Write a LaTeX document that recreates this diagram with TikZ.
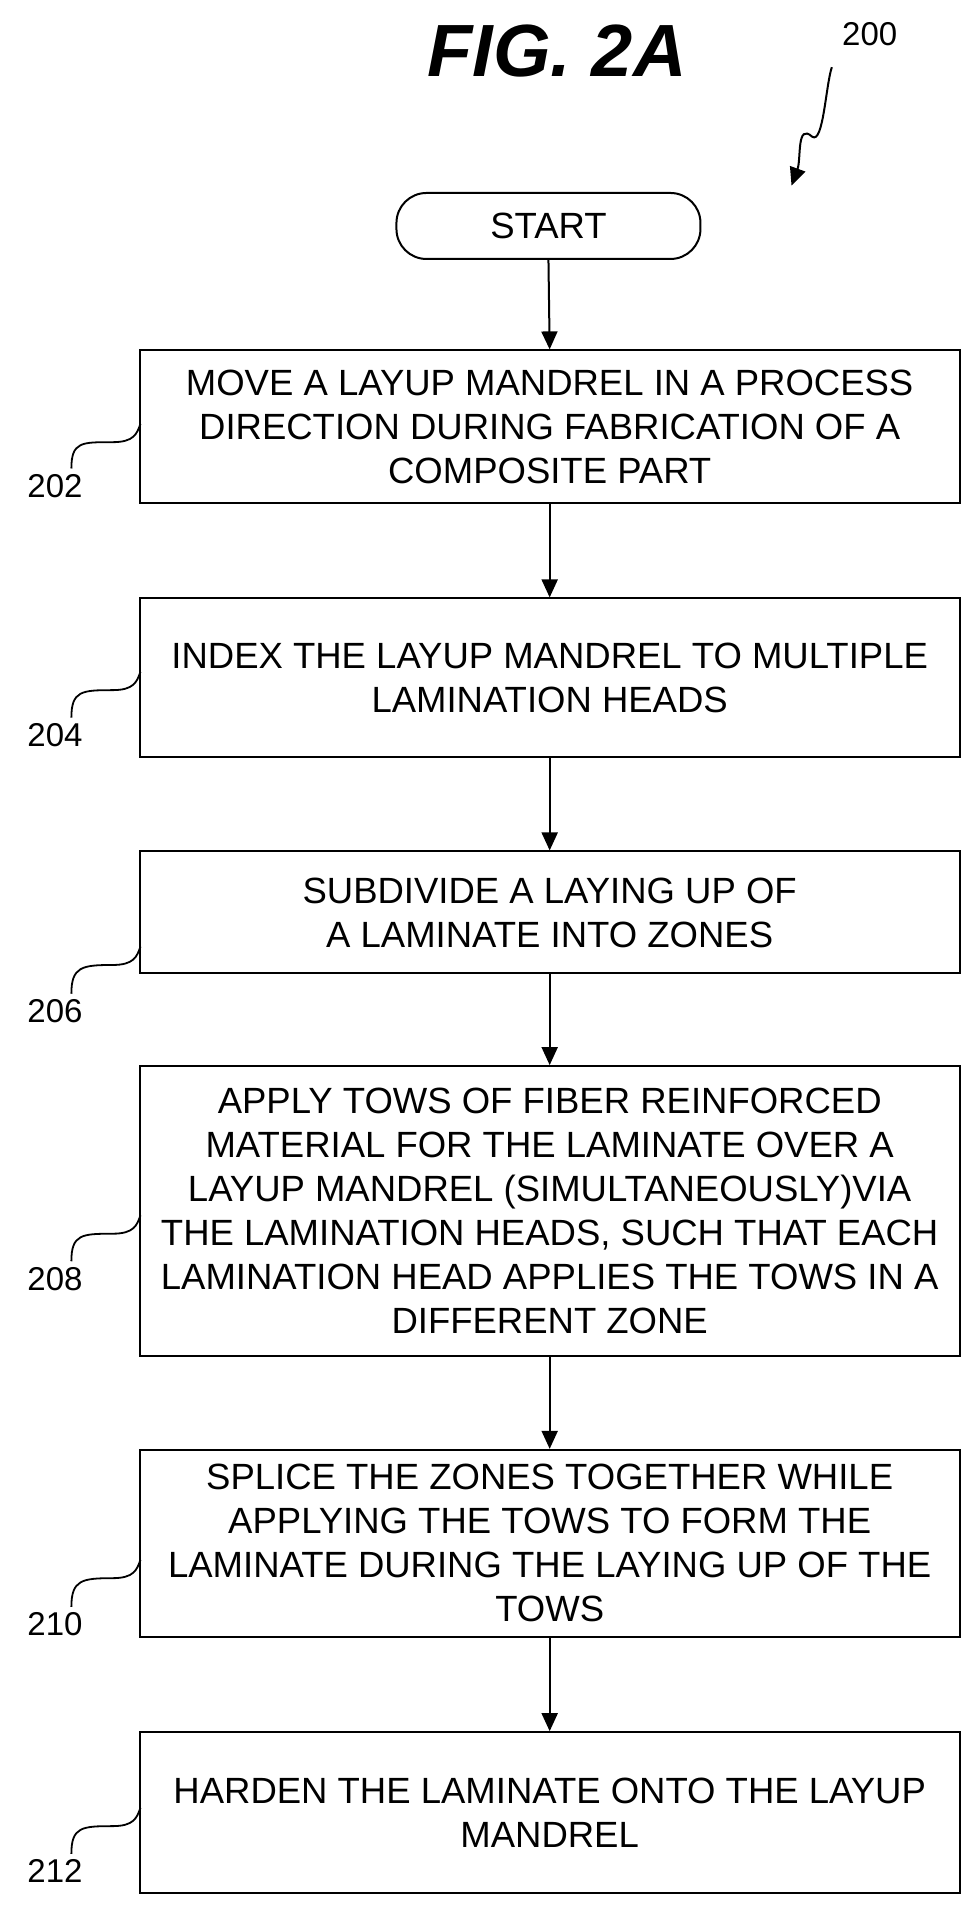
\documentclass[tikz,border=0pt]{standalone}
\usepackage{fontspec}
\setmainfont{Liberation Sans}
\usetikzlibrary{arrows.meta}
\begin{document}
\begin{tikzpicture}[x=1.2215pt,y=-1.2215pt,
  box/.style={draw,line width=2pt,minimum width=820pt,align=center,font=\fontsize{36.5}{44}\selectfont},
  lab/.style={font=\fontsize{33}{36}\selectfont},
  arr/.style={line width=2pt,-{Triangle[length=18pt,width=16pt]}},
  sq/.style={line width=1.8pt}]
\useasboundingbox (0,0) rectangle (800,1569.4);
\node[font=\fontsize{74}{80}\selectfont\bfseries\itshape] (fig) at (456,42) {FIG. 2A};
\node[lab] (n200) at (712,28) {200};
\coordinate (s0) at (681,55);
\coordinate (s1) at (648,152);
\draw[arr] (s0) .. controls (676,70) and (674,118) .. (665,112) .. controls (652,100) and (656,130) .. (s1);
\node[box,rounded corners=30pt,minimum width=304pt,minimum height=66pt] (start) at (449,185) {START};
\node[box,minimum height=153pt] (b202) at (450,349.5) {MOVE A LAYUP MANDREL IN A PROCESS\\DIRECTION DURING FABRICATION OF A\\COMPOSITE PART};
\node[box,minimum height=159pt] (b204) at (450,555) {INDEX THE LAYUP MANDREL TO MULTIPLE\\LAMINATION HEADS};
\node[box,minimum height=122pt] (b206) at (450,747) {SUBDIVIDE A LAYING UP OF\\A LAMINATE INTO ZONES};
\node[box,minimum height=290pt] (b208) at (450,991.5) {APPLY TOWS OF FIBER REINFORCED\\MATERIAL FOR THE LAMINATE OVER A\\LAYUP MANDREL (SIMULTANEOUSLY)VIA\\THE LAMINATION HEADS, SUCH THAT EACH\\LAMINATION HEAD APPLIES THE TOWS IN A\\DIFFERENT ZONE};
\node[box,minimum height=187pt] (b210) at (450,1263.5) {SPLICE THE ZONES TOGETHER WHILE\\APPLYING THE TOWS TO FORM THE\\LAMINATE DURING THE LAYING UP OF THE\\TOWS};
\node[box,minimum height=161pt] (b212) at (450,1484) {HARDEN THE LAMINATE ONTO THE LAYUP\\MANDREL};
\foreach \a/\b in {start/b202,b202/b204,b204/b206,b206/b208,b208/b210,b210/b212}
  \draw[arr] (\a.south) -- (\b.north);
\foreach \n/\y/\c in {202/398/367,204/602/570,206/828/795,208/1047/1015,210/1330/1297,212/1532/1500}{
  \node[lab] (l\n) at (45,\y) {\n};
  \draw[sq] (l\n.north east) ++(-12,-2) .. controls +(0,-22) and +(-25,0) .. (92,\c-5) .. controls +(18,0) and +(-3,8) .. (115,\c-20);
}
\end{tikzpicture}
\end{document}
